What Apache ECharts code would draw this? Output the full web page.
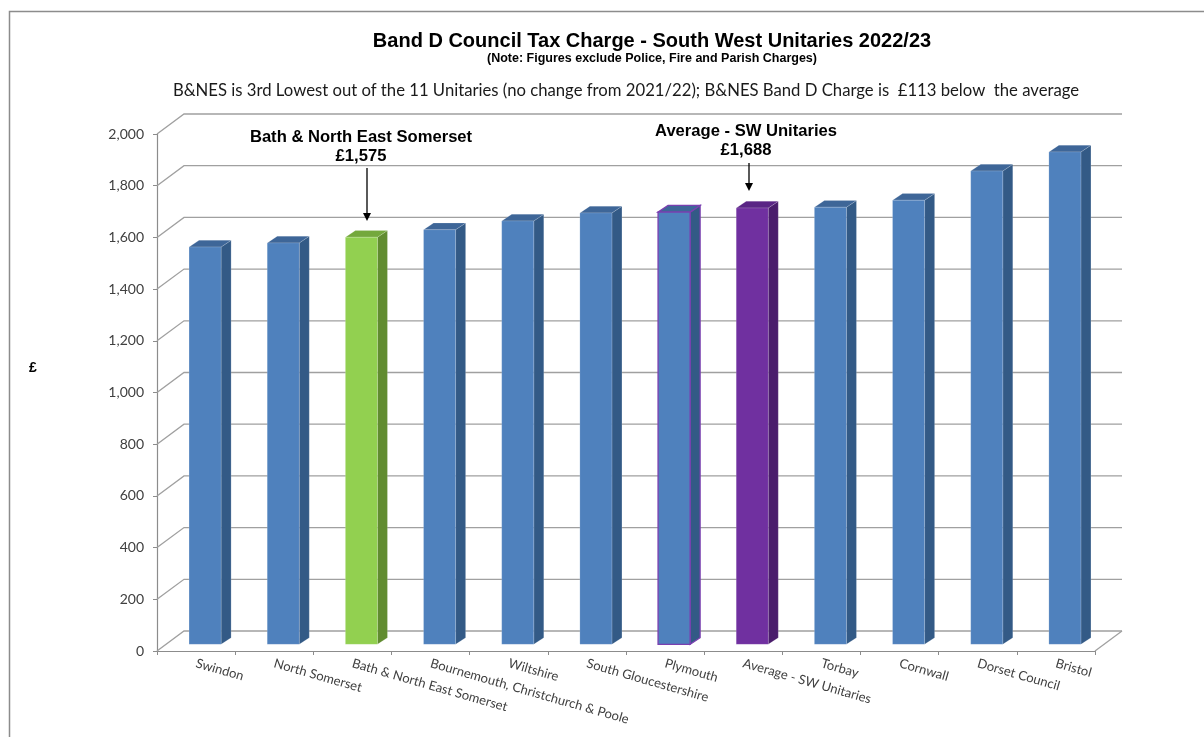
<!DOCTYPE html>
<html><head><meta charset="utf-8">
<script src="https://cdn.jsdelivr.net/npm/echarts/dist/echarts.min.js"></script>
<style>html,body{margin:0;padding:0;background:#fff;}#c{width:1204px;height:737px;}</style>
</head><body><div id="c"></div>
<script>
// ---- data ----
const categories = ['Swindon', 'North Somerset', 'Bath & North East Somerset', 'Bournemouth, Christchurch & Poole', 'Wiltshire', 'South Gloucestershire', 'Plymouth', 'Average - SW Unitaries', 'Torbay', 'Cornwall', 'Dorset Council', 'Bristol'];
const values = [1537, 1553, 1575, 1604, 1638, 1669, 1672, 1688, 1691, 1718, 1831, 1905];
const barKinds = ['blue', 'blue', 'green', 'blue', 'blue', 'blue', 'plymouth', 'purple', 'blue', 'blue', 'blue', 'blue'];
const yTicks = [0, 200, 400, 600, 800, 1000, 1200, 1400, 1600, 1800, 2000];
const titleText = 'Band D Council Tax Charge - South West Unitaries 2022/23';
const noteText = '(Note: Figures exclude Police, Fire and Parish Charges)';
const infoText = 'B&NES is 3rd Lowest out of the 11 Unitaries (no change from 2021/22); B&NES Band D Charge is  \u00a3113 below  the average';
const bnesLabel = ['Bath & North East Somerset', '\u00a31,575'];
const avgLabel = ['Average - SW Unitaries', '\u00a31,688'];

// ---- styles ----
const DX = 27, DY = -20; // 3D depth offset of the back wall
const STY = {
  blue:     {front: '#4F81BD', side: '#335a86', top: '#3e6698', stroke: null, lw: 0},
  green:    {front: '#92D050', side: '#618c30', top: '#74a83c', stroke: null, lw: 0},
  purple:   {front: '#7030A0', side: '#4a1d6c', top: '#5a2585', stroke: null, lw: 0},
  plymouth: {front: '#4F81BD', side: '#335a86', top: '#3e6698', stroke: '#7a3fb0', lw: 1.3}
};
const gridColor = '#a0a0a0';
const textColor = '#404040';

const chart = echarts.init(document.getElementById('c'));

function wallItem(params, api) {
  const v = api.value(1);
  const p = api.coord([0, v]);
  const bw = api.size([1, 0])[0];
  const lx = p[0] - bw / 2;
  const rx = api.coord([categories.length - 1, v])[0] + bw / 2;
  const y = p[1];
  const children = [{
    type: 'polyline',
    shape: {points: [[lx, y], [lx + DX, y + DY], [rx + DX, y + DY]]},
    style: {stroke: gridColor, lineWidth: 1.3, fill: null}
  }];
  if (v === 0) {
    children.push({type: 'line', shape: {x1: rx, y1: y, x2: rx + DX, y2: y + DY},
      style: {stroke: gridColor, lineWidth: 1.3}});
  }
  return {type: 'group', children};
}

function barItem(params, api) {
  const i = api.value(0), v = api.value(1);
  const base = api.coord([i, 0]);
  const top = api.coord([i, v]);
  const bw = api.size([1, 0])[0];
  const w = bw * 0.41;
  const fx = DX / 3, fy = DY / 3;
  const sx = fx + 1, sy = fy;
  const xL = base[0] - w / 2 + fx, xR = base[0] + w / 2 + fx;
  const yB = base[1] + fy, yT = top[1] + fy;
  const s = STY[barKinds[i]];
  const st = (fill) => s.stroke ? {fill, stroke: s.stroke, lineWidth: s.lw} : {fill, stroke: 'rgba(255,255,255,0.25)', lineWidth: 0.6};
  return {type: 'group', children: [
    {type: 'polygon', shape: {points: [[xR, yT], [xR + sx, yT + sy], [xR + sx, yB + sy], [xR, yB]]}, style: st(s.side)},
    {type: 'polygon', shape: {points: [[xL, yT], [xL + sx, yT + sy], [xR + sx, yT + sy], [xR, yT]]}, style: st(s.top)},
    {type: 'rect', shape: {x: xL, y: yT, width: w, height: yB - yT}, style: st(s.front)}
  ]};
}

function arrow(x, y1, y2) {
  return [
    {type: 'line', shape: {x1: x, y1: y1, x2: x, y2: y2 - 6}, style: {stroke: '#000', lineWidth: 1.3}, z: 100},
    {type: 'polygon', shape: {points: [[x - 4, y2 - 8], [x + 4, y2 - 8], [x, y2]]}, style: {fill: '#000'}, z: 100}
  ];
}
function txt(t, x, y, font, align, color) {
  return {type: 'text', x: x, y: y, z: 100, style: {text: t, font: font, fill: color || '#000', align: align || 'center', verticalAlign: 'middle'}};
}

const boldA = 'bold 16.6px "Liberation Sans", Arial, sans-serif';

chart.setOption({
  animation: false,
  backgroundColor: '#fff',
  grid: {left: 157, right: 109, top: 134, bottom: 86},
  xAxis: {
    type: 'category', data: categories,
    axisLine: {lineStyle: {color: '#8c8c8c', width: 1.2}},
    axisTick: {show: true, length: 4, lineStyle: {color: '#8c8c8c'}},
    axisLabel: {interval: 0, rotate: -16, margin: 12, color: textColor, fontSize: 13, fontFamily: 'Lato, "Open Sans", sans-serif'}
  },
  yAxis: {
    type: 'value', min: 0, max: 2000, interval: 200,
    axisLine: {show: true, lineStyle: {color: '#8c8c8c', width: 1.2}},
    axisTick: {show: true, length: 4, lineStyle: {color: '#8c8c8c'}},
    splitLine: {show: false},
    axisLabel: {margin: 13, color: textColor, fontSize: 14, fontFamily: 'Lato, "Open Sans", sans-serif',
      formatter: v => v.toLocaleString('en-GB')}
  },
  series: [
    {type: 'custom', z: 1, clip: false, silent: true, renderItem: wallItem,
      encode: {x: 0, y: 1}, data: yTicks.map(v => [0, v])},
    {type: 'custom', z: 2, clip: false, renderItem: barItem,
      encode: {x: 0, y: 1}, data: values.map((v, i) => [i, v])}
  ],
  graphic: [
    {type: 'rect', shape: {x: 9.5, y: 11.5, width: 1300, height: 800}, style: {fill: null, stroke: '#8c8c8c', lineWidth: 1.5}, z: 0},
    txt(titleText, 652, 41, 'bold 20px "Liberation Sans", Arial, sans-serif'),
    txt(noteText, 652, 59, 'bold 12.5px "Liberation Sans", Arial, sans-serif'),
    txt(infoText, 626, 91, '16.7px Lato, "Open Sans", sans-serif', 'center', '#1a1a1a'),
    txt('\u00a3', 33, 368, 'bold 14px "Liberation Sans", Arial, sans-serif'),
    txt(bnesLabel[0], 361, 137, boldA),
    txt(bnesLabel[1], 361, 156, boldA),
    ...arrow(367, 168, 221),
    txt(avgLabel[0], 746, 131, boldA),
    txt(avgLabel[1], 746, 150, boldA),
    ...arrow(749, 163, 191)
  ]
});
</script></body></html>
